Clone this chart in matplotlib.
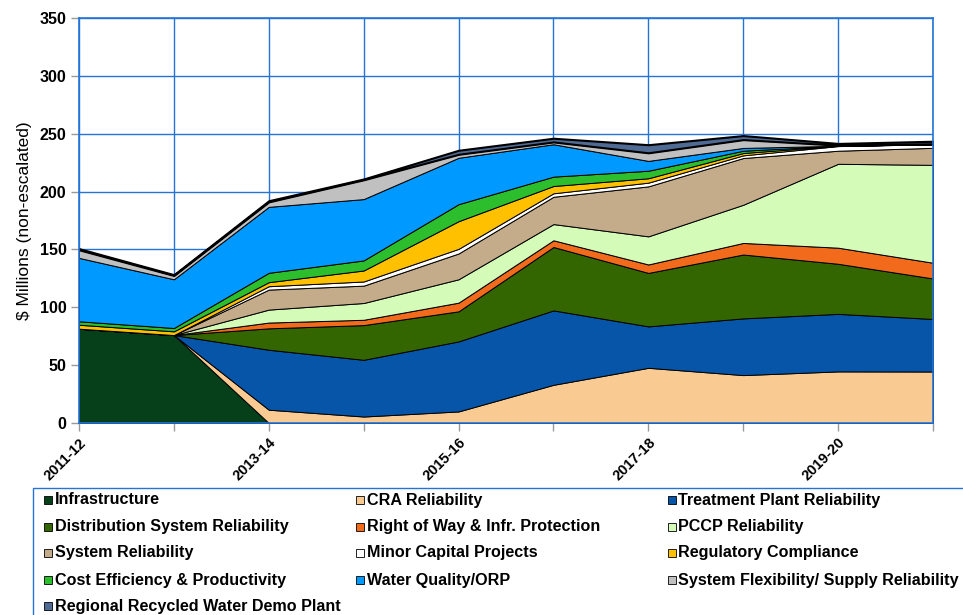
import matplotlib
matplotlib.use('Agg')
import matplotlib.pyplot as plt
from matplotlib.patches import Rectangle

years = ['2011-12', '2012-13', '2013-14', '2014-15', '2015-16',
         '2016-17', '2017-18', '2018-19', '2019-20', '2020-21']
shown_ticks = ['2011-12', '', '2013-14', '', '2015-16', '', '2017-18', '', '2019-20', '']

series_names = ['Infrastructure', 'CRA Reliability', 'Treatment Plant Reliability',
                'Distribution System Reliability', 'Right of Way & Infr. Protection',
                'PCCP Reliability', 'System Reliability', 'Minor Capital Projects',
                'Regulatory Compliance', 'Cost Efficiency & Productivity',
                'Water Quality/ORP', 'System Flexibility/ Supply Reliability',
                'Regional Recycled Water Demo Plant']

infrastructure = [81.5, 76.0, 0, 0, 0, 0, 0, 0, 0, 0]
cra_reliability = [0, 0, 11.5, 5.6, 10.0, 33.0, 47.7, 41.4, 44.6, 44.5]
treatment_plant = [0, 0, 51.8, 49.0, 60.5, 64.3, 35.8, 49.0, 49.7, 45.4]
distribution = [0, 0, 18.5, 30.0, 26.0, 54.8, 46.2, 55.2, 43.3, 35.0]
right_of_way = [0, 0, 5.0, 4.6, 7.5, 5.8, 7.3, 10.0, 13.9, 13.6]
pccp = [0, 0, 11.2, 14.5, 20.2, 14.0, 24.3, 33.0, 72.5, 84.6]
system_reliability = [0, 0, 17.3, 15.0, 22.3, 23.6, 43.2, 40.4, 11.3, 14.7]
minor_capital = [0, 0, 2.9, 3.6, 4.0, 3.0, 3.2, 2.3, 4.0, 3.1]
regulatory = [3.4, 3.2, 3.5, 9.5, 23.9, 6.3, 3.8, 2.0, 0.3, 0]
cost_efficiency = [3.0, 2.9, 8.1, 8.7, 14.7, 8.1, 6.5, 2.0, 0, 0]
water_quality = [54.8, 42.1, 57.0, 53.0, 40.1, 28.0, 8.5, 2.4, 0, 0]
system_flexibility = [7.0, 3.3, 4.3, 16.7, 3.0, 2.0, 7.0, 7.2, 0.5, 0.4]
regional_recycled = [1.0, 0.7, 1.0, 0.7, 3.5, 3.2, 7.0, 3.5, 1.5, 2.2]

colors = ['#05401B', '#F9CB93', '#0655A9', '#336600', '#F26B1D', '#D5FBB9',
          '#C4AB8A', '#FFFFFF', '#FFC000', '#2DBE2D', '#0099FF', '#C0C0C0', '#4F6B93']

data = [infrastructure, cra_reliability, treatment_plant, distribution, right_of_way,
        pccp, system_reliability, minor_capital, regulatory, cost_efficiency,
        water_quality, system_flexibility, regional_recycled]

grid_blue = '#2474D8'
W, H = 963, 615
fig = plt.figure(figsize=(W / 100, H / 100), dpi=100)
ax = fig.add_axes([79 / W, 1 - 423 / H, (933 - 79) / W, (423 - 18) / H])

x = list(range(len(years)))
polys = ax.stackplot(x, *data, colors=colors, edgecolor='black', linewidth=0.7, zorder=3)
polys[-1].set_linewidth(1.5)

ax.set_xlim(0, len(years) - 1)
ax.set_ylim(0, 350)
ax.set_yticks(range(0, 351, 50))
ax.set_xticks(x)
ax.set_xticklabels(shown_ticks, rotation=45, ha='right', rotation_mode='anchor',
                   fontweight='bold', fontsize=10.5, family='Liberation Sans')
for lab in ax.get_yticklabels():
    lab.set_fontweight('bold')
    lab.set_fontsize(11.5)
    lab.set_family('Liberation Sans')
ax.grid(True, color=grid_blue, linewidth=1.0, zorder=0)
ax.set_axisbelow(True)
for s in ax.spines.values():
    s.set_color(grid_blue)
    s.set_linewidth(1.2)
    s.set_zorder(4)
ax.tick_params(axis='y', length=6, color='#999999', width=1, pad=3)
ax.tick_params(axis='x', length=6, color='#999999', width=1, pad=3)
ax.set_ylabel('$ Millions (non-escalated)', fontsize=12.5, family='Liberation Sans')
ax.yaxis.set_label_coords(-0.055, 0.5)

# legend box
box = Rectangle((33 / W, -0.02), 1.0, 1 - 488 / H + 0.02, transform=fig.transFigure,
                facecolor='white', edgecolor=grid_blue, linewidth=1.0)
fig.patches.append(box)
col_x = [44, 356, 668]
row_y = [500, 527, 553, 580, 606]
for i, (name, c) in enumerate(zip(series_names, colors)):
    r, col = divmod(i, 3)
    mx, my = col_x[col], row_y[r]
    sq = Rectangle((mx / W, 1 - (my + 4) / H), 8 / W, 8 / H, transform=fig.transFigure,
                   facecolor=c, edgecolor='black', linewidth=0.6)
    fig.patches.append(sq)
    fig.text((mx + 10.5) / W, 1 - my / H, name, fontsize=11.6, fontweight='bold',
             family='Liberation Sans', va='center', ha='left')

fig.savefig('out.png', dpi=100)
